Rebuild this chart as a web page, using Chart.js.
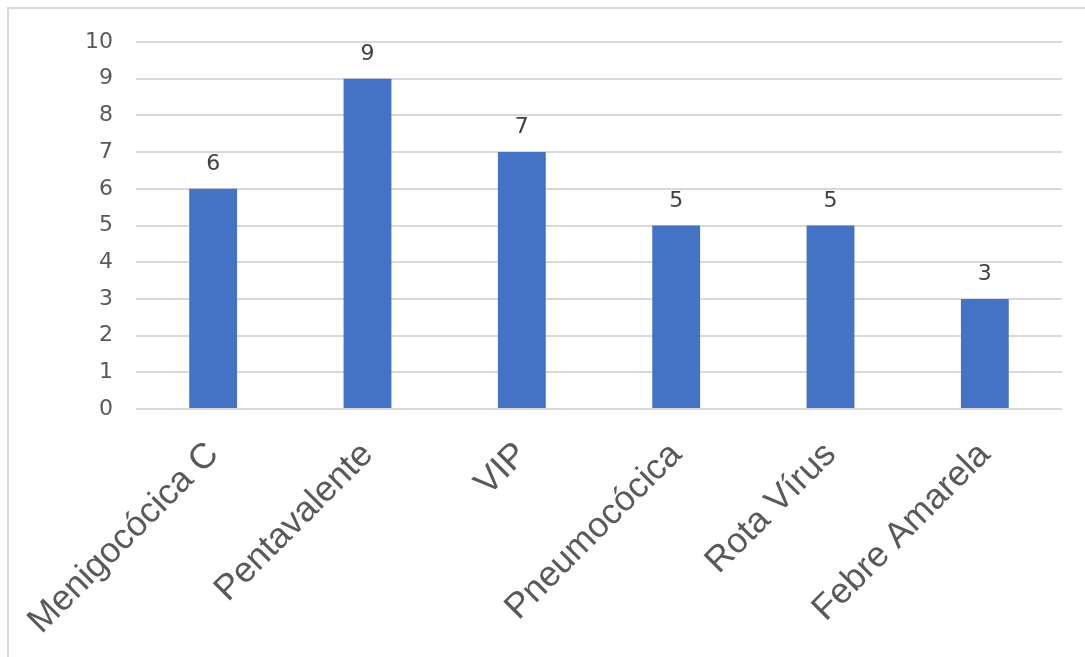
<!DOCTYPE html>
<html>
<head>
<meta charset="utf-8">
<script src="https://cdn.jsdelivr.net/npm/chart.js@4.4.0/dist/chart.umd.min.js"></script>
<style>
  html, body { margin: 0; padding: 0; background: #ffffff; }
  #wrap { position: relative; width: 1085px; height: 657px; }
  canvas { display: block; }
</style>
</head>
<body>
<div id="wrap"><canvas id="c" width="1085" height="657"></canvas></div>
<script>
const categories = ["Menigocócica C", "Pentavalente", "VIP", "Pneumocócica", "Rota Vírus", "Febre Amarela"];
const values = [6, 9, 7, 5, 5, 3];
const yTicks = [0, 1, 2, 3, 4, 5, 6, 7, 8, 9, 10];

const frame = {
  id: 'frame',
  beforeDraw(chart) {
    const ctx = chart.ctx;
    ctx.save();
    ctx.fillStyle = '#ffffff';
    ctx.fillRect(0, 0, chart.width, chart.height);
    ctx.strokeStyle = '#d9d9d9';
    ctx.lineWidth = 2;
    ctx.beginPath();
    ctx.moveTo(8, chart.height);
    ctx.lineTo(8, 8);
    ctx.lineTo(chart.width, 8);
    ctx.stroke();
    ctx.restore();
  }
};

const valueLabels = {
  id: 'valueLabels',
  afterDatasetsDraw(chart) {
    const ctx = chart.ctx;
    const meta = chart.getDatasetMeta(0);
    ctx.save();
    ctx.font = '22px "DejaVu Sans"';
    ctx.fillStyle = '#404040';
    ctx.textAlign = 'center';
    ctx.textBaseline = 'alphabetic';
    meta.data.forEach((bar, i) => {
      ctx.fillText(String(values[i]), bar.x, bar.y - 19);
    });
    ctx.restore();
  }
};

new Chart(document.getElementById('c'), {
  type: 'bar',
  data: {
    labels: categories,
    datasets: [{
      data: values,
      backgroundColor: '#4472C4',
      borderWidth: 0,
      barPercentage: 0.31,
      categoryPercentage: 1.0
    }]
  },
  options: {
    responsive: false,
    animation: false,
    events: [],
    layout: { padding: { top: 42, right: 23, left: 0, bottom: 0 } },
    plugins: { legend: { display: false }, tooltip: { enabled: false } },
    scales: {
      x: {
        grid: { display: false },
        border: { display: false },
        ticks: {
          minRotation: 45,
          maxRotation: 45,
          color: '#595959',
          font: { family: '"Liberation Sans", Arial, sans-serif', size: 35.5 },
          padding: 17
        },
        afterFit(scale) { scale.height = 657 - 409; }
      },
      y: {
        min: 0,
        max: 10,
        afterBuildTicks(scale) { scale.ticks = yTicks.map(v => ({ value: v })); },
        grid: { color: '#d9d9d9', lineWidth: 2, drawTicks: false },
        border: { display: false },
        ticks: {
          color: '#595959',
          font: { family: '"DejaVu Sans"', size: 22 },
          padding: 23
        },
        afterFit(scale) { scale.width = 136; }
      }
    }
  },
  plugins: [frame, valueLabels]
});
</script>
</body>
</html>
